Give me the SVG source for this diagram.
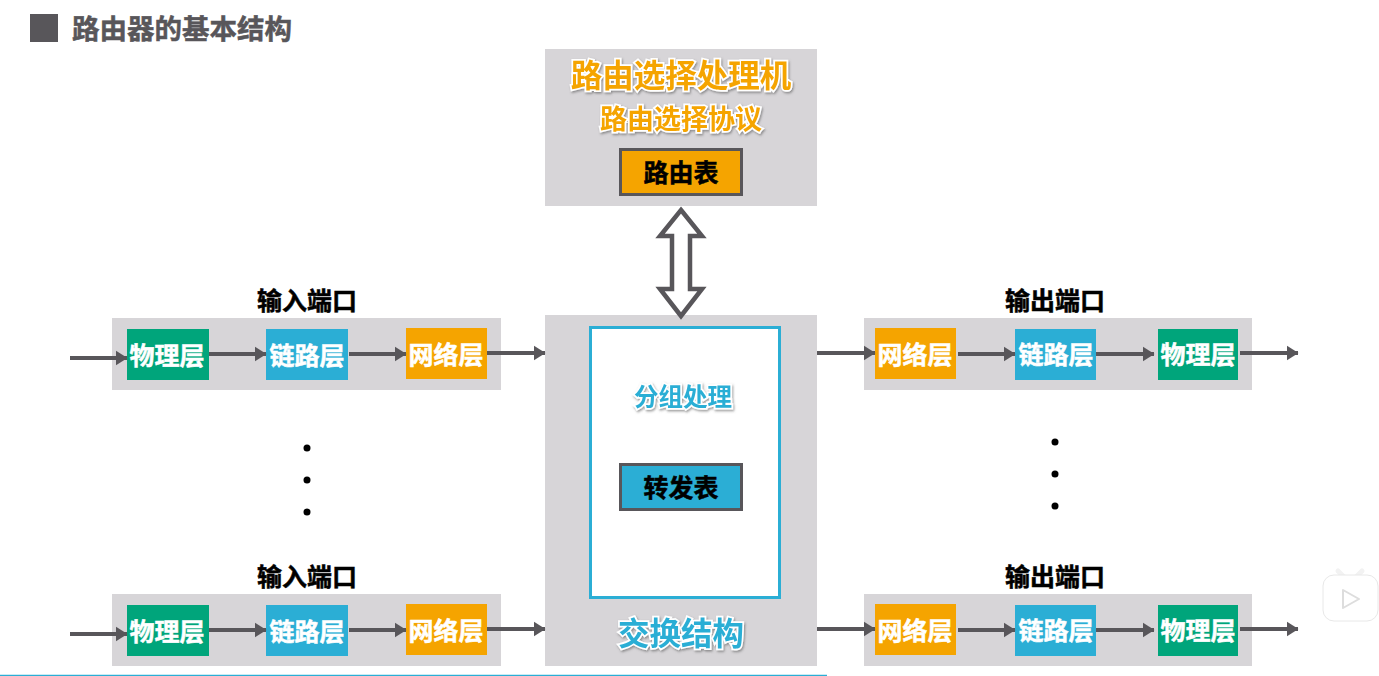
<svg xmlns="http://www.w3.org/2000/svg" width="1379" height="676" viewBox="0 0 1379 676">
<style>
text{font-family:"Noto Sans CJK SC","Liberation Sans",sans-serif;font-weight:700;text-anchor:middle}
.panel{fill:#d7d5d8}
.gr{fill:#00a57b}.bl{fill:#2baed5}.or{fill:#f5a400}
.lay{fill:#fff;stroke:#fff;stroke-width:.5px;font-size:25px}
.port,.tt{fill:#000;stroke:#000;stroke-width:.5px;font-size:25px}
.tbl{stroke:#58565a;stroke-width:3}
.ln{stroke:#58565a;stroke-width:4;fill:none;marker-end:url(#a)}
.sh{paint-order:stroke;stroke:#fff;stroke-width:3.500px;filter:url(#s)}
</style>
<defs>
<marker id="a" markerUnits="userSpaceOnUse" markerWidth="12" markerHeight="16" refX="11.5" refY="8" orient="auto"><path d="M0 0.500L12 8L0 15.500Z" fill="#58565a"/></marker>
<filter id="s" x="-10%" y="-20%" width="120%" height="150%"><feDropShadow dx="1" dy="1.5" stdDeviation="1" flood-color="#555" flood-opacity=".6"/></filter>
</defs>
<rect width="1379" height="676" fill="#fff"/>
<g id="title"><rect x="30" y="14" width="28" height="28" fill="#58565a"/><text x="182" y="39" font-size="27.500" fill="#58565a" stroke="#58565a" stroke-width=".5">路由器的基本结构</text></g>
<g id="router-processor"><rect class="panel" x="545" y="49" width="272" height="157"/>
<text class="sh" x="681" y="87" font-size="31.500" fill="#f5a400">路由选择处理机</text>
<text class="sh" x="681" y="129" font-size="27" fill="#f5a400">路由选择协议</text>
<rect class="or tbl" x="620.500" y="149.500" width="121" height="45"/><text class="tt" x="681" y="182">路由表</text></g>
<g id="switch-fabric"><rect class="panel" x="545" y="315" width="272" height="351"/>
<rect x="590.500" y="327.500" width="189" height="270" fill="#fff" stroke="#2baed5" stroke-width="3"/>
<text class="sh" x="683" y="406" font-size="24.500" fill="#2baed5">分组处理</text>
<rect class="bl tbl" x="620.500" y="464.500" width="121" height="45"/><text class="tt" x="681" y="497">转发表</text>
<text class="sh" x="681" y="645" font-size="31.500" fill="#2baed5">交换结构</text></g>
<g id="in-1"><text class="port" x="307" y="310">输入端口</text><rect class="panel" x="112" y="318" width="389" height="72"/>
<rect class="gr" x="127" y="329" width="82" height="51"/><text class="lay" x="167" y="365">物理层</text>
<rect class="bl" x="266" y="329" width="82" height="51"/><text class="lay" x="307" y="365">链路层</text>
<rect class="or" x="406" y="328" width="81" height="51"/><text class="lay" x="446" y="364">网络层</text></g>
<g id="in-2"><text class="port" x="307" y="586">输入端口</text><rect class="panel" x="112" y="594" width="389" height="72"/>
<rect class="gr" x="127" y="605" width="82" height="51"/><text class="lay" x="167" y="641">物理层</text>
<rect class="bl" x="266" y="605" width="82" height="51"/><text class="lay" x="307" y="641">链路层</text>
<rect class="or" x="406" y="604" width="81" height="51"/><text class="lay" x="446" y="640">网络层</text></g>
<g id="out-1"><text class="port" x="1055" y="310">输出端口</text><rect class="panel" x="864" y="318" width="388" height="72"/>
<rect class="or" x="875" y="328" width="81" height="51"/><text class="lay" x="915" y="364">网络层</text>
<rect class="bl" x="1015" y="329" width="81" height="51"/><text class="lay" x="1056" y="364">链路层</text>
<rect class="gr" x="1158" y="329" width="80" height="51"/><text class="lay" x="1198" y="364">物理层</text></g>
<g id="out-2"><text class="port" x="1055" y="586">输出端口</text><rect class="panel" x="864" y="594" width="388" height="72"/>
<rect class="or" x="875" y="604" width="81" height="51"/><text class="lay" x="915" y="640">网络层</text>
<rect class="bl" x="1015" y="605" width="81" height="51"/><text class="lay" x="1056" y="640">链路层</text>
<rect class="gr" x="1158" y="605" width="80" height="51"/><text class="lay" x="1198" y="640">物理层</text></g>
<g id="connectors">
<path class="ln" d="M70 358H127"/><path class="ln" d="M209 354H266"/><path class="ln" d="M349 354H406"/><path class="ln" d="M487 353H545"/>
<path class="ln" d="M70 634H127"/><path class="ln" d="M209 630H266"/><path class="ln" d="M349 630H406"/><path class="ln" d="M487 629H545"/>
<path class="ln" d="M817 353H875"/><path class="ln" d="M958 354H1015"/><path class="ln" d="M1096 354H1154"/><path class="ln" d="M1240 353H1298"/>
<path class="ln" d="M817 629H875"/><path class="ln" d="M958 630H1015"/><path class="ln" d="M1096 630H1154"/><path class="ln" d="M1240 629H1298"/>
<path d="M681 210L702 236H690V289H702L681 316L660 289H672V236H660Z" fill="#fff" stroke="#58565a" stroke-width="4.500"/>
</g>
<g id="dots" fill="#000"><circle cx="307" cy="448" r="3.500"/><circle cx="307" cy="480" r="3.500"/><circle cx="307" cy="512" r="3.500"/><circle cx="1055" cy="442" r="3.500"/><circle cx="1055" cy="474" r="3.500"/><circle cx="1055" cy="506" r="3.500"/></g>
<path id="progress" d="M0 675.500H827" stroke="#2baed5" stroke-width="1.500"/>
<g id="watermark"><path d="M1338 571L1344 577M1362 571L1356 577" stroke="#f2f2f2" stroke-width="5" stroke-linecap="round"/><rect x="1323" y="575" width="55" height="46" rx="11" fill="#fff" stroke="#e8e8e8"/><path d="M1343 590L1359 599L1343 608Z" fill="#fff" stroke="#ddd" stroke-width="2" stroke-linejoin="round"/></g>
</svg>
